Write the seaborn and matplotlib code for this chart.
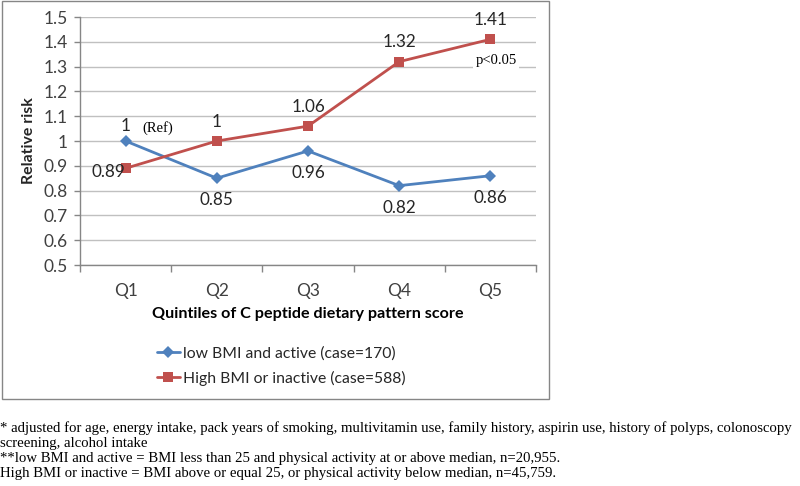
import matplotlib
matplotlib.use("Agg")
import matplotlib.pyplot as plt
import matplotlib.patches as mpatches
import seaborn as sns
import pandas as pd

# data
quintiles = ["Q1", "Q2", "Q3", "Q4", "Q5"]
low_bmi_active = [1.00, 0.85, 0.96, 0.82, 0.86]
high_bmi_inactive = [0.89, 1.00, 1.06, 1.32, 1.41]
low_labels = ["1", "0.85", "0.96", "0.82", "0.86"]
high_labels = ["0.89", "1", "1.06", "1.32", "1.41"]
series_names = ["low BMI and active (case=170)", "High BMI or inactive (case=588)"]
y_ticks = [0.5, 0.6, 0.7, 0.8, 0.9, 1.0, 1.1, 1.2, 1.3, 1.4, 1.5]
footnotes = [
    "* adjusted for age, energy intake, pack years of smoking, multivitamin use, family history, aspirin use, history of polyps, colonoscopy",
    "screening, alcohol intake",
    "**low BMI and active = BMI less than 25 and physical activity at or above median, n=20,955.",
    "High BMI or inactive = BMI above or equal 25, or physical activity below median, n=45,759.",
]

BLUE = "#4F81BD"
RED = "#C0504D"
SANS = ["Lato", "DejaVu Sans"]
SERIF = ["Liberation Serif", "DejaVu Serif"]

sns.set_theme(style="white")
plt.rcParams["font.family"] = SANS

df = pd.DataFrame({
    "quintile": quintiles * 2,
    "rr": low_bmi_active + high_bmi_inactive,
    "group": [series_names[0]] * 5 + [series_names[1]] * 5,
})

fig = plt.figure(figsize=(8, 4.86), dpi=100)
ax = fig.add_axes([0.1, 0.4547, 0.57, 0.5103])

sns.lineplot(data=df, x="quintile", y="rr", hue="group", style="group",
             palette=[BLUE, RED], markers=["D", "s"], dashes=False,
             linewidth=2, markersize=7, markeredgewidth=0, ax=ax)
for line in ax.lines:
    if line.get_marker() == "s":
        line.set_markersize(7.5)
    else:
        line.set_markersize(6)

ax.set_xlim(-0.5, 4.5)
ax.set_ylim(0.5, 1.5)
ax.set_yticks(y_ticks)
ax.set_yticklabels([f"{v:g}" for v in y_ticks])
ax.yaxis.grid(True, color="#C0C0C0", linewidth=1)
ax.set_axisbelow(True)
ax.set_xticks(range(5))
ax.set_xticklabels(quintiles)
ax.tick_params(axis="x", length=0, pad=13, labelsize=12.5, colors="#404040")
ax.tick_params(axis="y", left=True, length=4, width=1, color="#868686",
               labelsize=12.5, colors="#404040", pad=5)
ax.set_xticks([i - 0.5 for i in range(6)], minor=True)
ax.tick_params(axis="x", which="minor", bottom=True, length=5, width=1, color="#868686")
for side in ["top", "right"]:
    ax.spines[side].set_visible(False)
for side in ["left", "bottom"]:
    ax.spines[side].set_color("#868686")
    ax.spines[side].set_linewidth(1)

ax.set_xlabel("Quintiles of C peptide dietary pattern score", fontsize=11.6,
              fontweight="bold", labelpad=6, color="#000000")
ax.set_ylabel("Relative risk", fontsize=11.4, fontweight="bold", labelpad=5)

lab_kw = dict(textcoords="offset points", ha="center", va="center",
              fontsize=12.3, color="#262626")
box = dict(boxstyle="square,pad=0.15", fc="white", ec="none")
# blue labels
for i, (v, t) in enumerate(zip(low_bmi_active, low_labels)):
    off = (0, 11) if i == 0 else (0, -16)
    ax.annotate(t, (quintiles[i], v), xytext=off, **lab_kw)
# red labels
for i, (v, t) in enumerate(zip(high_bmi_inactive, high_labels)):
    off = (-12, -3) if i == 0 else (0, 14)
    ax.annotate(t, (quintiles[i], v), xytext=off, **lab_kw)

ax.annotate("(Ref)", (quintiles[0], low_bmi_active[0]), xytext=(23, 9),
            textcoords="offset points", ha="center", va="center",
            fontsize=10.5, family=SERIF, color="#000000", bbox=box)
ax.annotate("p<0.05", (quintiles[4], high_bmi_inactive[4]), xytext=(4, -15),
            textcoords="offset points", ha="center", va="center",
            fontsize=10.5, family=SERIF, color="#000000", bbox=box)

handles, labels = ax.get_legend_handles_labels()
ax.get_legend().remove()
fig.legend(handles, labels, loc="upper left", bbox_to_anchor=(0.188, 1 - 340 / 486),
           frameon=False, fontsize=11.3, handlelength=1.5, handletextpad=0.15,
           labelspacing=0.65, borderaxespad=0)

# outer chart border
fig.patches.append(mpatches.Rectangle((2 / 800, 1 - 399 / 486), 547 / 800, 398 / 486,
                                      transform=fig.transFigure, fill=False,
                                      edgecolor="#868686", linewidth=1))

for k, line in enumerate(footnotes):
    fig.text(0.0, 1 - (428 + 15 * k) / 486, line, family=SERIF, fontsize=10.6,
             ha="left", va="center", color="#000000")

fig.savefig("out.png", dpi=100)
